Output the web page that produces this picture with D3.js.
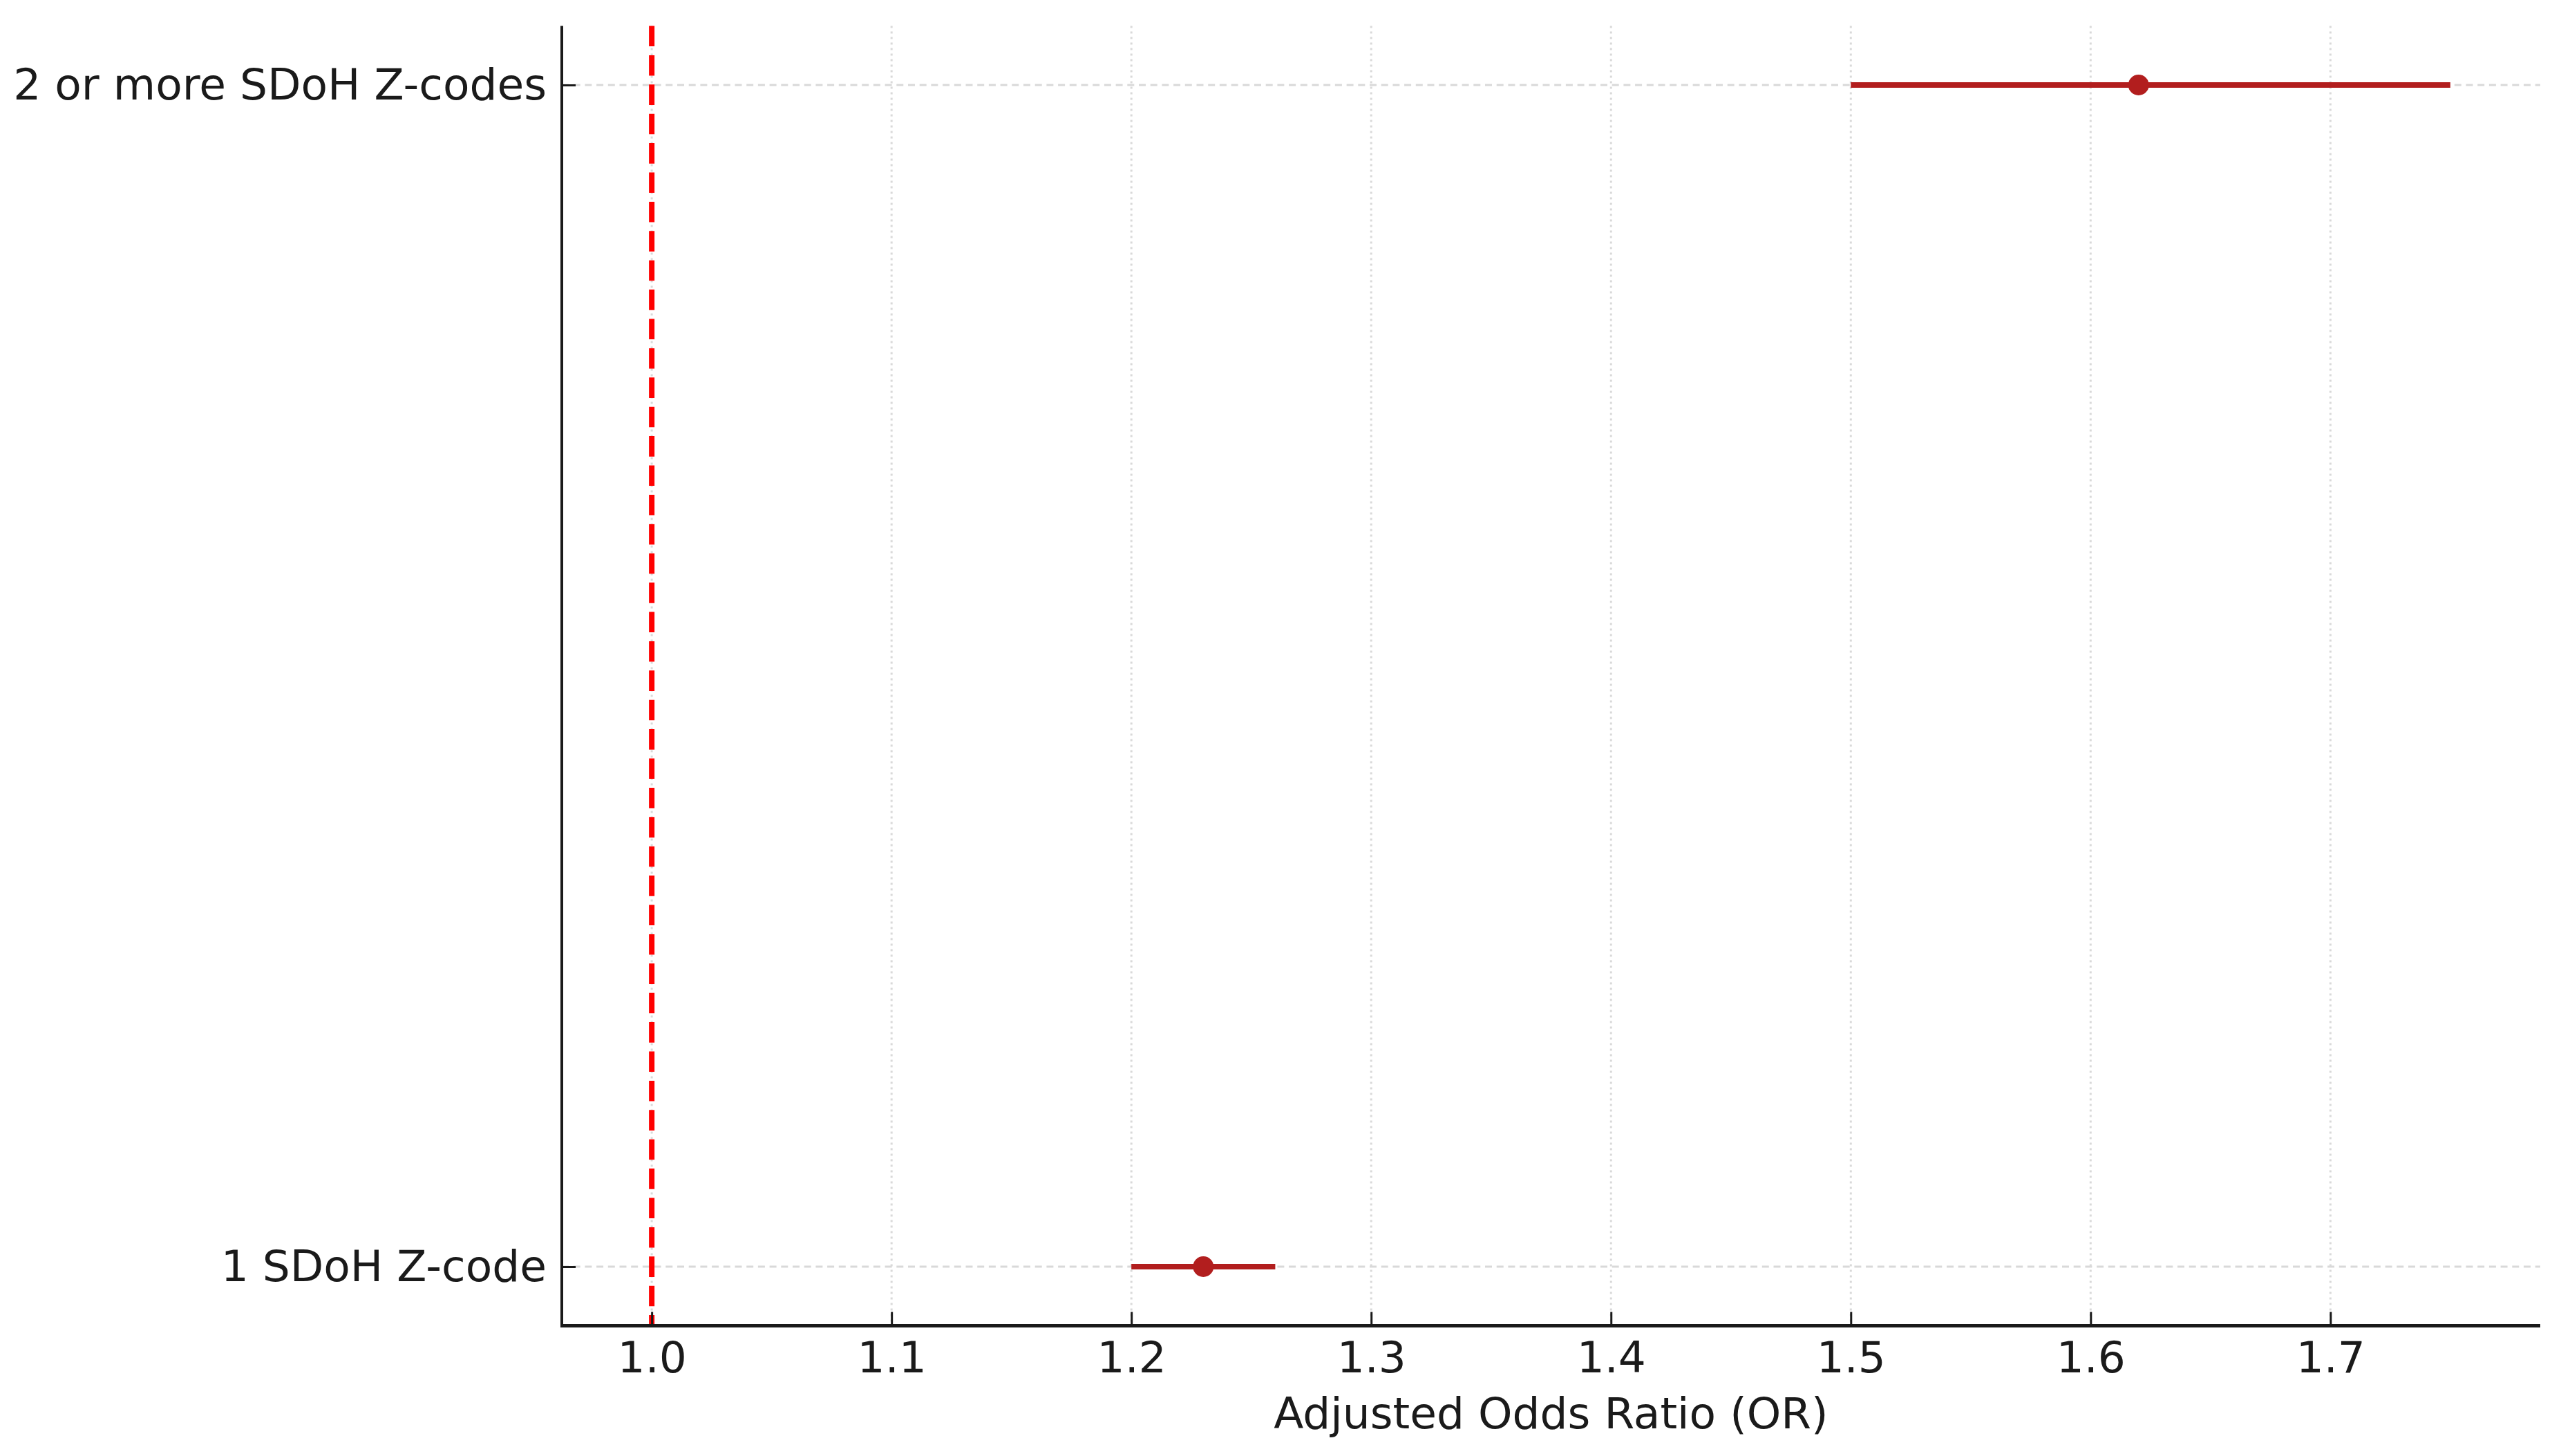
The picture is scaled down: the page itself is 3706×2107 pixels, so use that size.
<!DOCTYPE html>
<html>
<head>
<meta charset="utf-8">
<script src="https://cdn.jsdelivr.net/npm/d3@7"></script>
<style>
  html, body { margin: 0; padding: 0; background: #fff; }
  svg { display: block; }
  text { font-family: "DejaVu Sans", sans-serif; fill: #1a1a1a; }
</style>
</head>
<body>
<svg id="chart" width="3706" height="2107"></svg>
<script>
// ---- data ----
const categories = ["1 SDoH Z-code", "2 or more SDoH Z-codes"];
const oddsRatios = [1.23, 1.62];
const ciLower = [1.20, 1.50];
const ciUpper = [1.26, 1.75];
const xTicks = [1.0, 1.1, 1.2, 1.3, 1.4, 1.5, 1.6, 1.7];
const referenceValue = [1.0];
const xLabel = "Adjusted Odds Ratio (OR)";

// ---- layout ----
const W = 3706, H = 2107;
const margin = { left: 813, right: W - 3676, top: 37.5, bottom: H - 1918.5 };
const svg = d3.select("#chart");
const plotW = W - margin.left - margin.right;
const plotH = H - margin.top - margin.bottom;
const FS = 63;

const x = d3.scaleLinear().domain([0.9625, 1.7875]).range([margin.left, margin.left + plotW]);
const y = d3.scaleLinear().domain([-0.05, 1.05]).range([margin.top + plotH, margin.top]);

const g = svg.append("g");

// vertical grid (dotted)
g.append("g").selectAll("line").data(xTicks).join("line")
  .attr("x1", d => x(d)).attr("x2", d => x(d))
  .attr("y1", margin.top).attr("y2", margin.top + plotH)
  .attr("stroke", "#d9d9d9").attr("stroke-width", 3)
  .attr("stroke-dasharray", "3,5");

// horizontal grid (dashed)
g.append("g").selectAll("line").data(categories).join("line")
  .attr("x1", margin.left).attr("x2", margin.left + plotW)
  .attr("y1", (d, i) => y(i)).attr("y2", (d, i) => y(i))
  .attr("stroke", "#d9d9d9").attr("stroke-width", 3)
  .attr("stroke-dasharray", "10,6.7");

// reference line
g.append("g").selectAll("line").data(referenceValue).join("line")
  .attr("x1", d => x(d)).attr("x2", d => x(d))
  .attr("y1", margin.top).attr("y2", margin.top + plotH)
  .attr("stroke", "#ff0000").attr("stroke-width", 8)
  .attr("stroke-dasharray", "29.6,12.8");

// error bars
const color = "#b21e1e";
g.append("g").selectAll("line").data(categories).join("line")
  .attr("x1", (d, i) => x(ciLower[i])).attr("x2", (d, i) => x(ciUpper[i]))
  .attr("y1", (d, i) => y(i)).attr("y2", (d, i) => y(i))
  .attr("stroke", color).attr("stroke-width", 8);

// points
g.append("g").selectAll("circle").data(categories).join("circle")
  .attr("cx", (d, i) => x(oddsRatios[i])).attr("cy", (d, i) => y(i))
  .attr("r", 15).attr("fill", color);

// x axis
const xAxis = d3.axisBottom(x).tickValues(xTicks).tickFormat(d3.format(".1f"))
  .tickSizeInner(-20).tickSizeOuter(0).tickPadding(20);
const xa = svg.append("g").attr("transform", `translate(0,${margin.top + plotH})`).call(xAxis);
xa.select(".domain").attr("stroke", "#1a1a1a").attr("stroke-width", 5)
  .attr("d", `M${margin.left - 2},0H${margin.left + plotW}`);
xa.selectAll(".tick line").attr("stroke", "#1a1a1a").attr("stroke-width", 3);
xa.selectAll(".tick text").attr("font-size", FS).attr("font-family", "DejaVu Sans").attr("fill", "#1a1a1a").attr("dy", "0.76em");

// y axis
const yAxis = d3.axisLeft(y).tickValues([0, 1]).tickFormat(i => categories[i])
  .tickSizeInner(-20).tickSizeOuter(0).tickPadding(22);
const ya = svg.append("g").attr("transform", `translate(${margin.left},0)`).call(yAxis);
ya.select(".domain").attr("stroke", "#1a1a1a").attr("stroke-width", 4)
  .attr("d", `M0,${margin.top}V${margin.top + plotH}`);
ya.selectAll(".tick line").attr("stroke", "#1a1a1a").attr("stroke-width", 3);
ya.selectAll(".tick text").attr("font-size", FS).attr("font-family", "DejaVu Sans").attr("fill", "#1a1a1a");

// x label
svg.append("text")
  .attr("x", margin.left + plotW / 2).attr("y", 2067)
  .attr("text-anchor", "middle").attr("font-size", FS)
  .text(xLabel);
</script>
</body>
</html>
